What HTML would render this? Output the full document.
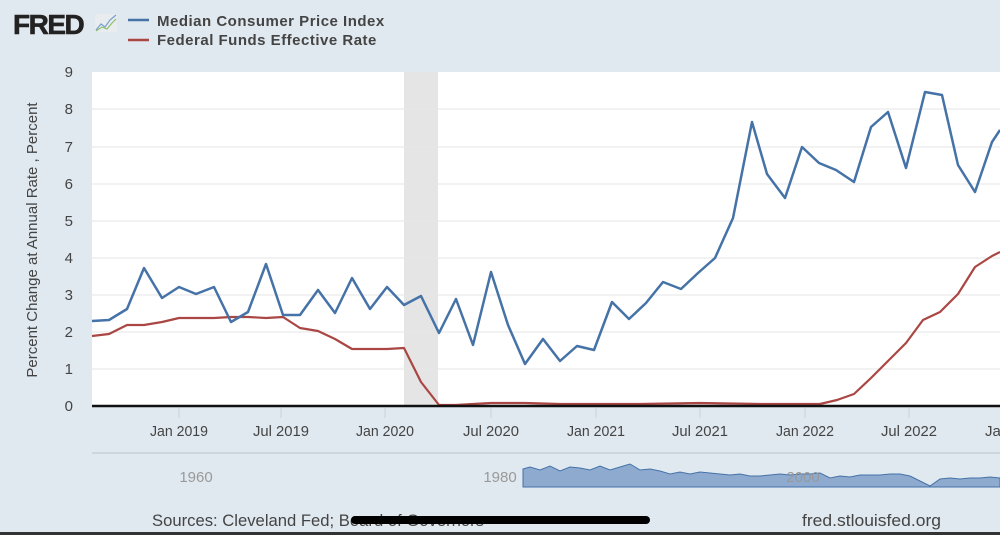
<!DOCTYPE html>
<html><head><style>
body{margin:0;width:1000px;height:535px;background:#e1e9f0;overflow:hidden;font-family:"Liberation Sans",sans-serif;}
</style></head><body>
<svg width="1000" height="535" xmlns="http://www.w3.org/2000/svg" style="position:absolute;left:0;top:0">
<rect width="1000" height="535" fill="#e1e9f0"/>
<text x="13" y="34" font-size="28" font-weight="bold" fill="#222" letter-spacing="-1.5" stroke="#222" stroke-width="0.6">FRED</text>
<rect x="95" y="14" width="22" height="18" fill="#e8ecef"/>
<polyline points="96,30 101,24 105,27 110,20 116,15" fill="none" stroke="#7a9fd0" stroke-width="1.2"/>
<polyline points="96,31 102,27 107,29 112,23 116,19" fill="none" stroke="#8ec06c" stroke-width="1.2"/>
<line x1="128" y1="20" x2="149" y2="20" stroke="#4572a7" stroke-width="2.5"/>
<line x1="128" y1="40" x2="149" y2="40" stroke="#aa4643" stroke-width="2.5"/>
<text x="157" y="26" font-size="15" font-weight="bold" fill="#444" letter-spacing="0.5">Median Consumer Price Index</text>
<text x="157" y="45" font-size="15" font-weight="bold" fill="#444" letter-spacing="0.5">Federal Funds Effective Rate</text>
<rect x="92" y="72" width="908" height="334" fill="#fff"/>
<rect x="404" y="72" width="34" height="334" fill="#e5e5e5"/>
<g stroke="#e6e6e6" stroke-width="1">
<line x1="92" y1="109" x2="1000" y2="109"/><line x1="92" y1="147" x2="1000" y2="147"/>
<line x1="92" y1="184" x2="1000" y2="184"/><line x1="92" y1="221" x2="1000" y2="221"/>
<line x1="92" y1="258" x2="1000" y2="258"/><line x1="92" y1="295" x2="1000" y2="295"/>
<line x1="92" y1="332" x2="1000" y2="332"/><line x1="92" y1="369" x2="1000" y2="369"/>
</g>
<g font-size="15" fill="#444" text-anchor="end">
<text x="73" y="77">9</text><text x="73" y="114">8</text><text x="73" y="152">7</text><text x="73" y="189">6</text><text x="73" y="226">5</text><text x="73" y="263">4</text><text x="73" y="300">3</text><text x="73" y="337">2</text><text x="73" y="374">1</text><text x="73" y="411">0</text>
</g>
<text transform="translate(37,240) rotate(-90)" font-size="15" fill="#444" text-anchor="middle">Percent Change at Annual Rate , Percent</text>
<polyline fill="none" stroke="#aa4643" stroke-width="2.2" stroke-linejoin="round" points="92,336 109,334 127,325 144,325 162,322 179,318 196,318 214,318 231,317 248,317 266,318 283,317 300,328 318,331 335,339 352,349 370,349 387,349 404,348 421,382 439,405 456,405 473,404 491,403 508,403 525,403 560,404 600,404 640,404 700,403 760,404 820,404 837,400 854,394 871,378 888,361 906,343 923,320 940,312 958,294 975,267 992,256 1000,252"/>
<polyline fill="none" stroke="#4572a7" stroke-width="2.5" stroke-linejoin="round" points="92,321 109,320 127,309 144,268 162,298 179,287 196,294 214,287 231,322 248,312 266,264 283,315 300,315 318,290 335,313 352,278 370,309 387,287 404,305 421,296 439,333 456,299 473,345 491,272 508,325 525,364 543,339 560,361 577,346 594,350 612,302 629,319 646,303 663,282 681,289 698,273 715,258 733,218 752,122 767,174 785,198 802,147 819,163 836,170 854,182 871,127 888,112 906,168 925,92 942,95 958,165 975,192 992,142 1000,130"/>
<line x1="92" y1="406" x2="1000" y2="406" stroke="#111" stroke-width="2.5"/>
<g stroke="#c8d3de" stroke-width="1">
<line x1="179" y1="408" x2="179" y2="418"/><line x1="281" y1="408" x2="281" y2="418"/><line x1="385" y1="408" x2="385" y2="418"/><line x1="491" y1="408" x2="491" y2="418"/><line x1="596" y1="408" x2="596" y2="418"/><line x1="700" y1="408" x2="700" y2="418"/><line x1="805" y1="408" x2="805" y2="418"/><line x1="909" y1="408" x2="909" y2="418"/>
</g>
<g font-size="15" fill="#444" text-anchor="middle">
<text x="179" y="436" textLength="58" lengthAdjust="spacingAndGlyphs">Jan 2019</text><text x="281" y="436" textLength="56" lengthAdjust="spacingAndGlyphs">Jul 2019</text><text x="385" y="436" textLength="58" lengthAdjust="spacingAndGlyphs">Jan 2020</text><text x="491" y="436" textLength="56" lengthAdjust="spacingAndGlyphs">Jul 2020</text><text x="596" y="436" textLength="58" lengthAdjust="spacingAndGlyphs">Jan 2021</text><text x="700" y="436" textLength="56" lengthAdjust="spacingAndGlyphs">Jul 2021</text><text x="805" y="436" textLength="58" lengthAdjust="spacingAndGlyphs">Jan 2022</text><text x="909" y="436" textLength="56" lengthAdjust="spacingAndGlyphs">Jul 2022</text><text x="985" y="436" text-anchor="start">Jan</text>
</g>
<line x1="92" y1="453" x2="1000" y2="453" stroke="#cdd5de" stroke-width="2"/>
<path d="M523,469 L530,467 540,470 550,466 560,471 570,467 580,468 590,470 600,466 610,470 620,467 630,464 640,470 650,469 660,471 670,474 680,472 690,474 700,472 710,473 720,474 730,475 740,474 750,476 760,476 770,475 780,474 790,475 800,474 810,474 820,473 830,478 840,476 850,477 860,475 870,475 880,475 890,474 900,474 910,476 920,481 930,486 940,479 950,478 960,479 970,478 980,478 990,477 1000,478 L1000,487 L523,487 Z" fill="#8eabcf" stroke="#4572a7" stroke-width="1"/>
<g font-size="15" fill="#999" text-anchor="middle">
<text x="196" y="482">1960</text><text x="500" y="482">1980</text><text x="803" y="482">2000</text>
</g>
<text x="152" y="526" font-size="17" fill="#444" textLength="332" lengthAdjust="spacingAndGlyphs">Sources: Cleveland Fed; Board of Governors</text>
<text x="802" y="526" font-size="17" fill="#444" textLength="139" lengthAdjust="spacingAndGlyphs">fred.stlouisfed.org</text>
<line x1="355" y1="520" x2="646" y2="520" stroke="#000" stroke-width="8" stroke-linecap="round"/>
<rect x="0" y="532" width="1000" height="3" fill="#333"/>
</svg>
</body></html>
